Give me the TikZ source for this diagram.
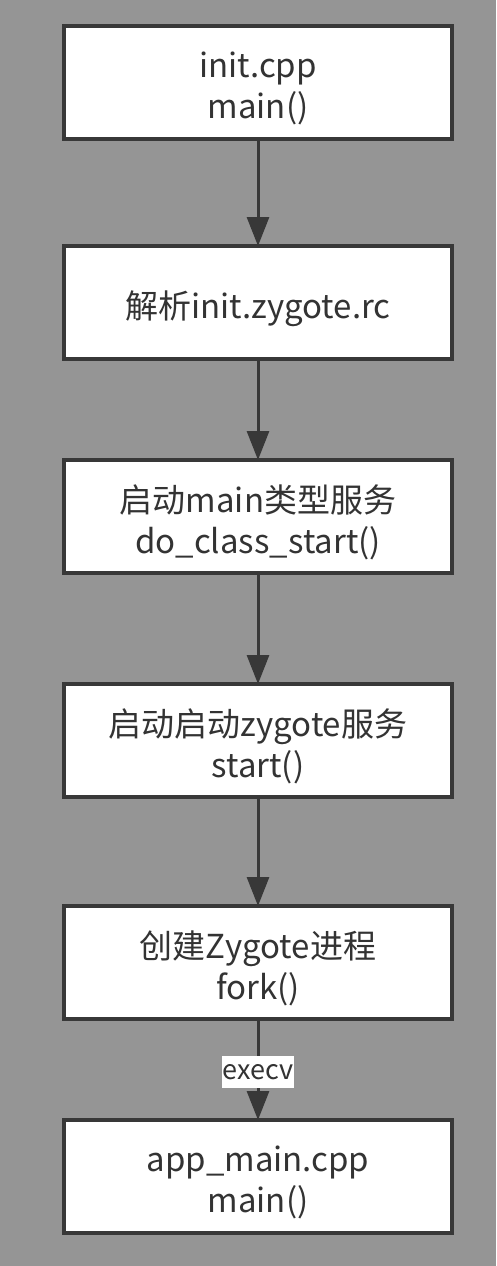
\documentclass[tikz,border=0pt]{standalone}
\usepackage{fontspec}
\setmainfont{Noto Sans CJK SC}
\usetikzlibrary{arrows.meta}
\definecolor{bg}{HTML}{959595}
\definecolor{edge}{HTML}{383838}
\definecolor{txt}{HTML}{333333}
\begin{document}
\begin{tikzpicture}[x=1pt,y=-1pt,
  stepbox/.style={draw=edge,line width=4pt,fill=white,minimum width=388pt,minimum height=113pt,inner sep=0pt},
  steptext/.style={align=center,text=txt,font=\fontsize{33pt}{41pt}\selectfont,inner sep=0pt,yshift=-6pt},
  conn/.style={draw=edge,line width=3pt,-{Triangle[length=29pt,width=22pt]},shorten >=-2pt},
  lbl/.style={fill=white,text=txt,font=\fontsize{27pt}{30pt}\selectfont,inner xsep=1pt,inner ysep=0pt,
    text height=24pt,text depth=8pt,yshift=-2pt}]
\useasboundingbox (0,0) rectangle (496,1266);
\fill[bg] (0,0) rectangle (496,1266);
\node[stepbox,label={[steptext]center:{init.cpp\\main()}}] (a) at (258,82.5) {};
\node[stepbox,label={[steptext]center:{解析init.zygote.rc}}] (b) at (258,302.5) {};
\node[stepbox,label={[steptext]center:{启动main类型服务\\do\_class\_start()}}] (c) at (258,516.5) {};
\node[stepbox,label={[steptext]center:{启动启动zygote服务\\start()}}] (d) at (258,740.5) {};
\node[stepbox,label={[steptext]center:{创建Zygote进程\\fork()}}] (e) at (258,962.5) {};
\node[stepbox,label={[steptext]center:{app\_main.cpp\\main()}}] (f) at (258,1176.5) {};
\draw[conn] (a) -- (b);
\draw[conn] (b) -- (c);
\draw[conn] (c) -- (d);
\draw[conn] (d) -- (e);
\draw[conn] (e) -- node[lbl,pos=0.5] {execv} (f);
\end{tikzpicture}
\end{document}
